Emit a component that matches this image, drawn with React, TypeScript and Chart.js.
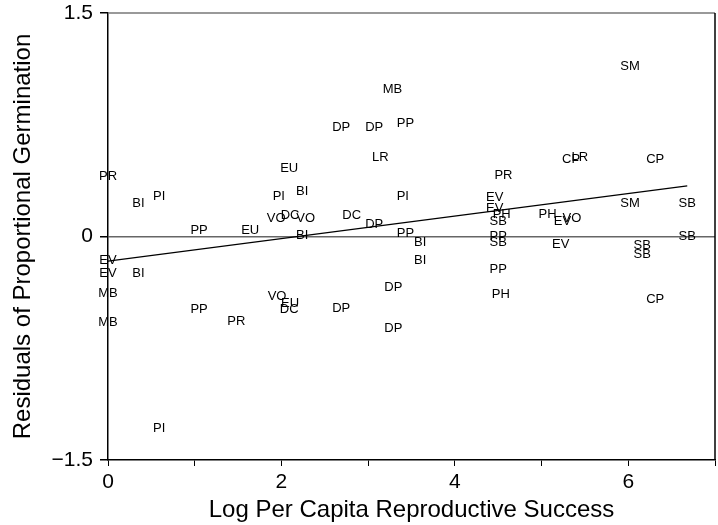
import React, { useEffect, useRef } from "react";
import { Chart, registerables } from "chart.js";

Chart.register(...registerables);

const codes = [
  "PR", "BI", "PI", "EU", "PI", "BI", "VO", "DC", "VO", "PP", "EU", "BI",
  "EV", "EV", "BI", "MB", "MB", "PP", "PR", "VO", "EU", "DC", "PI",
  "MB", "DP", "DP", "PP", "LR", "PI", "DC", "DP", "PP", "BI", "BI", "DP", "DP", "DP",
  "PR", "EV", "EV", "PH", "SB", "PP", "SB", "PP", "PH",
  "CP", "LR", "PH", "EV", "VO", "EV",
  "SM", "CP", "SM", "SB", "SB", "SB", "SB", "CP",
];
const logSuccess = [
  0.0, 0.35, 0.59, 2.09, 1.97, 2.24, 1.94, 2.1, 2.28, 1.05, 1.64, 2.24,
  0.0, 0.0, 0.35, 0.0, 0.0, 1.05, 1.48, 1.95, 2.1, 2.09, 0.59,
  3.28, 2.69, 3.07, 3.43, 3.14, 3.4, 2.81, 3.07, 3.43, 3.6, 3.6, 3.29, 2.69, 3.29,
  4.56, 4.46, 4.46, 4.54, 4.5, 4.5, 4.5, 4.5, 4.53,
  5.34, 5.44, 5.07, 5.24, 5.35, 5.22,
  6.02, 6.31, 6.02, 6.68, 6.16, 6.16, 6.68, 6.31,
];
const residuals = [
  0.4, 0.22, 0.27, 0.46, 0.27, 0.3, 0.12, 0.14, 0.12, 0.04, 0.04, 0.01,
  -0.16, -0.25, -0.25, -0.38, -0.58, -0.49, -0.57, -0.4, -0.45, -0.49, -1.29,
  0.99, 0.73, 0.73, 0.76, 0.53, 0.27, 0.14, 0.08, 0.02, -0.04, -0.16, -0.34, -0.48, -0.62,
  0.41, 0.26, 0.19, 0.15, 0.1, 0.0, -0.04, -0.22, -0.39,
  0.52, 0.53, 0.15, 0.1, 0.12, -0.05,
  1.14, 0.52, 0.22, 0.22, -0.06, -0.12, 0.0, -0.42,
];
const fitX = [0, 6.68];
const fitY = [-0.165, 0.34];
const yTicks = [-1.5, 0, 1.5];
const xTickLabels: Record<number, string> = { 0: "0", 2: "2", 4: "4", 6: "6" };

const FONT = "'Liberation Sans', Arial, sans-serif";

const labelPlugin = {
  id: "codeLabels",
  afterDatasetsDraw(chart: any) {
    const meta = chart.getDatasetMeta(1);
    const ctx = chart.ctx;
    ctx.save();
    ctx.font = "13px " + FONT;
    ctx.fillStyle = "#000";
    ctx.textAlign = "center";
    ctx.textBaseline = "middle";
    meta.data.forEach((el: any, i: number) => {
      ctx.fillText(codes[i], el.x, el.y);
    });
    ctx.restore();
  },
};

const framePlugin = {
  id: "frame",
  afterDraw(chart: any) {
    const { ctx, chartArea } = chart;
    ctx.save();
    ctx.lineWidth = 1.5;
    ctx.strokeStyle = "#777";
    ctx.beginPath();
    ctx.moveTo(chartArea.left, chartArea.top);
    ctx.lineTo(chartArea.right, chartArea.top);
    ctx.stroke();
    ctx.strokeStyle = "#000";
    ctx.beginPath();
    ctx.moveTo(chartArea.right, chartArea.top);
    ctx.lineTo(chartArea.right, chartArea.bottom);
    ctx.stroke();
    ctx.restore();
  },
};

export default function App() {
  const ref = useRef<HTMLCanvasElement | null>(null);
  useEffect(() => {
    if (!ref.current) return;
    const chart = new Chart(ref.current, {
      type: "scatter",
      data: {
        datasets: [
          {
            type: "line",
            data: fitX.map((x, i) => ({ x, y: fitY[i] })),
            borderColor: "#000",
            borderWidth: 1.3,
            pointRadius: 0,
            fill: false,
          },
          {
            data: logSuccess.map((x, i) => ({ x, y: residuals[i] })),
            pointRadius: 0,
            pointHoverRadius: 0,
            backgroundColor: "transparent",
            borderColor: "transparent",
          },
        ],
      },
      options: {
        responsive: false,
        animation: false,
        events: [],
        layout: { padding: { top: 13, right: 3, left: 0, bottom: 0 } },
        plugins: { legend: { display: false }, tooltip: { enabled: false } },
        scales: {
          x: {
            type: "linear",
            min: 0,
            max: 7,
            afterFit: (s: any) => {
              s.height = 65;
              s.paddingLeft = 0;
              s.paddingRight = 0;
            },
            ticks: {
              stepSize: 1,
              autoSkip: false,
              maxRotation: 0,
              padding: 4,
              color: "#000",
              font: { size: 21, family: FONT },
              callback: (v: any) => xTickLabels[v] ?? "",
            },
            grid: {
              drawOnChartArea: false,
              tickLength: 6,
              tickColor: "#000",
              color: "#000",
            },
            border: { display: true, color: "#000", width: 1.5 },
            title: {
              display: true,
              text: "Log Per Capita Reproductive Success",
              color: "#000",
              font: { size: 24, family: FONT },
              padding: { top: 0, bottom: 0 },
            },
          },
          y: {
            type: "linear",
            min: -1.5,
            max: 1.5,
            afterFit: (s: any) => {
              s.width = 108;
              s.paddingTop = 0;
              s.paddingBottom = 0;
            },
            afterBuildTicks: (s: any) => {
              s.ticks = yTicks.map((v) => ({ value: v }));
            },
            ticks: {
              padding: 7,
              color: "#000",
              font: { size: 21, family: FONT },
              callback: (v: any) => (v < 0 ? "\u2212" + Math.abs(v) : String(v)),
            },
            grid: {
              drawOnChartArea: true,
              tickLength: 8,
              tickColor: "#000",
              lineWidth: 1.5,
              color: (c: any) => (c.tick && c.tick.value === 0 ? "#666" : "transparent"),
            },
            border: { display: true, color: "#000", width: 1.5 },
            title: {
              display: true,
              text: "Residuals of Proportional Germination",
              color: "#000",
              font: { size: 24, family: FONT },
              padding: { top: 9, bottom: 0 },
            },
          },
        },
      },
      plugins: [labelPlugin, framePlugin],
    });
    return () => chart.destroy();
  }, []);
  return (
    <div style={{ position: "fixed", left: 0, top: 0, width: 718, height: 525, background: "#fff" }}>
      <canvas ref={ref} width={718} height={525} style={{ display: "block" }} />
    </div>
  );
}
